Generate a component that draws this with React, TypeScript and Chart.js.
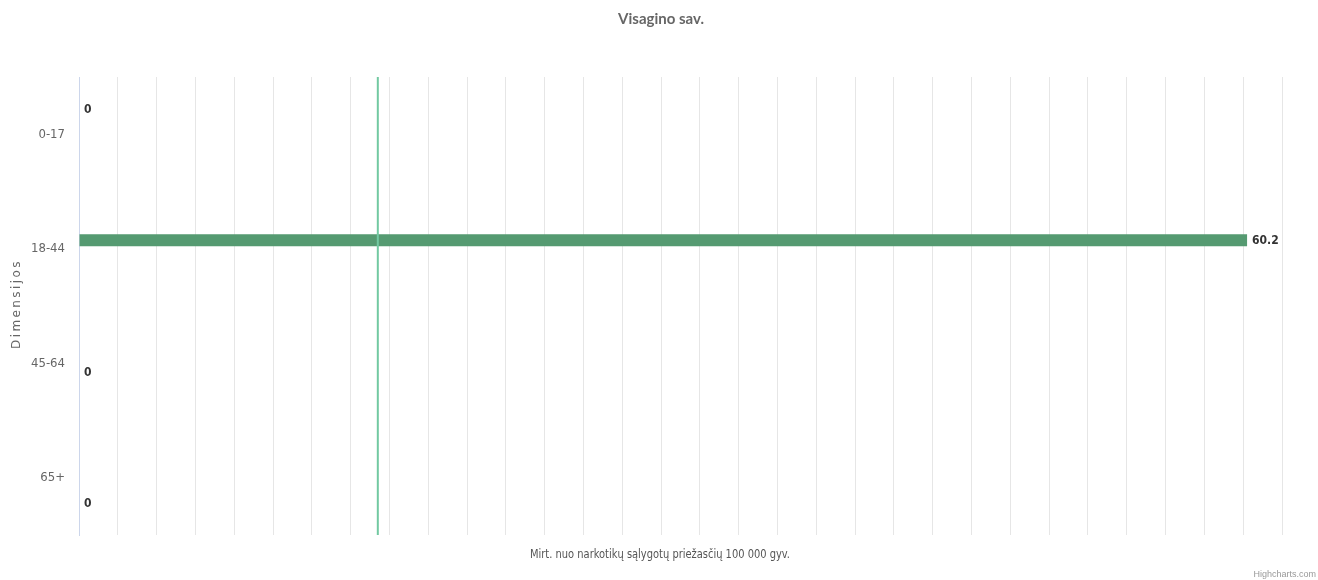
import React, { useEffect, useRef } from "react";
import { Chart, registerables } from "chart.js";

Chart.register(...registerables);

const categories = ["0-17", "18-44", "45-64", "65+"];
const values = [0, 60.2, 0, 0];
const referenceLine = 15.4;
const xMin = 0;
const xMax = 62;
const xStep = 2;
const chartTitle = "Visagino sav.";
const xTitle = "Mirt. nuo narkotikų sąlygotų priežasčių 100 000 gyv.";
const yTitle = "Dimensijos";
const credits = "Highcharts.com";

const NARROW = '"DejaVu Sans Condensed", "Liberation Sans Narrow", "Liberation Sans", sans-serif';

export default function App() {
  const ref = useRef<HTMLCanvasElement>(null);
  useEffect(() => {
    if (!ref.current) return;
    const datasets = categories.map((c, i) => ({
      label: c,
      data: values.map((v, j) => (j === i ? v : null)),
      backgroundColor: "#559a71",
      borderWidth: 0,
      categoryPercentage: 0.594,
      barPercentage: 0.706,
    }));

    const textPlugin = {
      id: "texts",
      afterDraw(chart: any) {
        const ctx = chart.ctx;
        const area = chart.chartArea;
        const xs = chart.scales.x;
        ctx.save();
        const px = xs.getPixelForValue(referenceLine);
        ctx.strokeStyle = "#72c9a2";
        ctx.lineWidth = 2;
        ctx.beginPath();
        ctx.moveTo(px, area.top);
        ctx.lineTo(px, area.bottom);
        ctx.stroke();
        ctx.restore();
      },
      afterDatasetsDraw(chart: any) {
        const ctx = chart.ctx;
        ctx.save();
        ctx.font = "bold 12px " + NARROW;
        ctx.fillStyle = "#333333";
        ctx.textBaseline = "middle";
        ctx.textAlign = "left";
        chart.data.datasets.forEach((ds: any, di: number) => {
          const meta = chart.getDatasetMeta(di);
          ds.data.forEach((v: any, i: number) => {
            if (v === null || v === undefined) return;
            const el = meta.data[i];
            ctx.fillText(String(v), el.x + 5, el.y + 1);
          });
        });
        ctx.restore();
      },
    };

    const overlayPlugin = {
      id: "overlayTexts",
      afterDraw(chart: any) {
        const ctx = chart.ctx;
        ctx.save();
        ctx.fillStyle = "#666666";
        ctx.textAlign = "center";
        ctx.textBaseline = "middle";
        ctx.font = "bold 15px Lato, 'Noto Sans', sans-serif";
        ctx.fillText(chartTitle, 661, 19);
        // x axis title, condensed to the reference width
        ctx.save();
        ctx.font = "13px " + NARROW;
        ctx.fillStyle = "#555555";
        const w = ctx.measureText(xTitle).width;
        const sx = 260 / w;
        ctx.translate(660, 555);
        ctx.scale(sx, 1);
        ctx.fillText(xTitle, 0, 0);
        ctx.restore();
        ctx.save();
        ctx.translate(17, 304);
        ctx.rotate(-Math.PI / 2);
        ctx.font = "12px 'DejaVu Sans', sans-serif";
        (ctx as any).letterSpacing = "2.4px";
        ctx.fillStyle = "#666666";
        ctx.fillText(yTitle, 0, 0);
        ctx.restore();
        ctx.textAlign = "right";
        ctx.font = "9px 'Liberation Sans', sans-serif";
        ctx.fillStyle = "#999999";
        ctx.fillText(credits, 1316, 575);
        ctx.restore();
      },
    };

    const chart = new Chart(ref.current, {
      type: "bar",
      data: { labels: categories, datasets },
      options: {
        indexAxis: "y",
        responsive: false,
        animation: false,
        maintainAspectRatio: false,
        layout: { padding: { left: 0, top: 77, right: 36, bottom: 45 } },
        plugins: {
          legend: { display: false },
          tooltip: { enabled: false },
          title: { display: false },
        },
        scales: {
          x: {
            min: xMin,
            max: xMax,
            ticks: { display: false, stepSize: xStep },
            grid: { color: "#e6e6e6", drawTicks: false, lineWidth: 1 },
            border: { display: false },
            afterFit: (s: any) => {
              s.height = 0;
            },
          },
          y: {
            grid: { display: false, drawTicks: false },
            border: { display: true, color: "#ccd6eb", width: 1 },
            ticks: {
              color: "#666666",
              font: { size: 13, family: NARROW },
              padding: 14,
            },
            afterFit: (s: any) => {
              s.width = 79;
            },
          },
        },
      },
      plugins: [textPlugin, overlayPlugin],
    });
    return () => chart.destroy();
  }, []);

  return (
    <div style={{ position: "fixed", left: 0, top: 0, width: 1318, height: 580, background: "#fff" }}>
      <canvas ref={ref} width={1318} height={580} style={{ display: "block" }} />
    </div>
  );
}
